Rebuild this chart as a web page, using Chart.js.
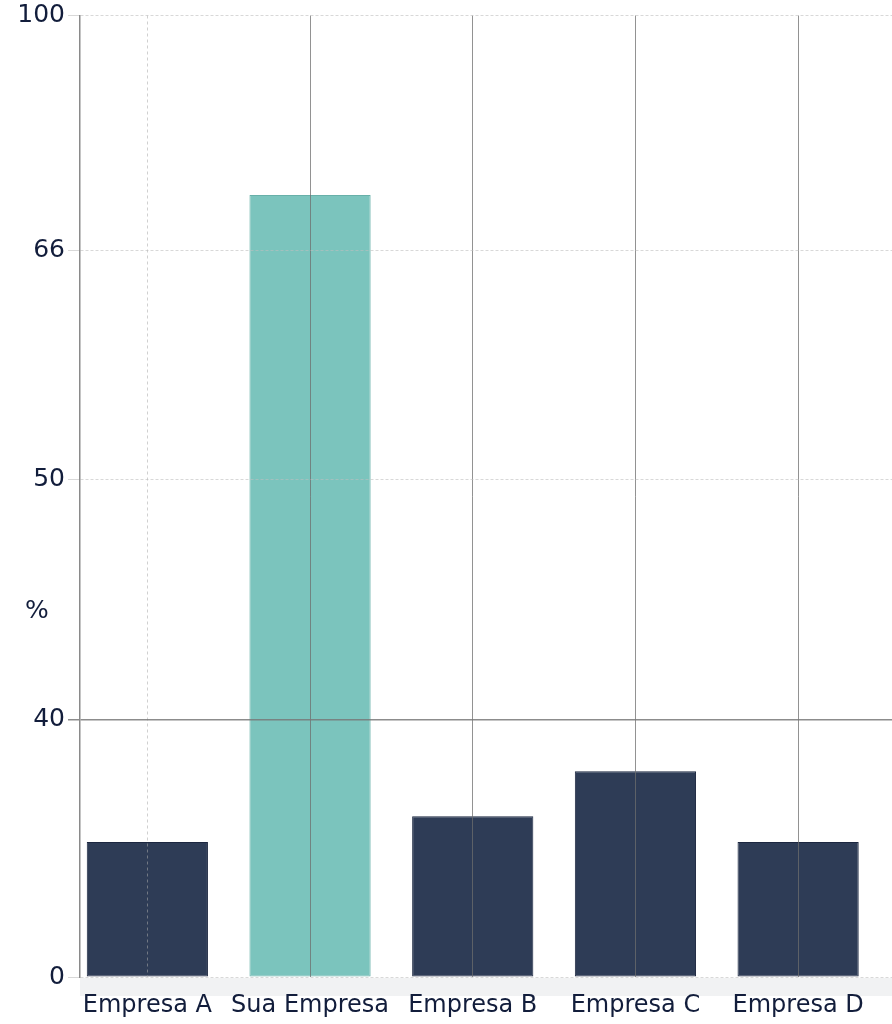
<!DOCTYPE html>
<html>
<head>
<meta charset="utf-8">
<script src="https://cdn.jsdelivr.net/npm/chart.js@4.4.1/dist/chart.umd.min.js"></script>
<style>
  html, body { margin: 0; padding: 0; background: #ffffff; }
  #wrap { width: 892px; height: 1024px; position: relative; }
</style>
</head>
<body>
<div id="wrap"><canvas id="c"></canvas></div>
<script>
// ---- data ----
const categories = ['Empresa A', 'Sua Empresa', 'Empresa B', 'Empresa C', 'Empresa D'];
const shares = [21, 74, 25, 32, 21];
const yTickValues = [0, 40, 50, 66, 100];
const yTickLabels = ['0', '40', '50', '66', '100'];
const axisUnit = '%';

// ---- a linear scale whose ticks are spread at given fractions of the axis ----
class PiecewiseScale extends Chart.LinearScale {
  static id = 'piecewise';
  static defaults = {};
  toFraction(v) {
    const vals = this.options.breakValues, fr = this.options.breakFractions;
    if (v <= vals[0]) return fr[0];
    for (let i = 1; i < vals.length; i++) {
      if (v <= vals[i]) {
        const t = (v - vals[i - 1]) / (vals[i] - vals[i - 1]);
        return fr[i - 1] + t * (fr[i] - fr[i - 1]);
      }
    }
    return fr[fr.length - 1];
  }
  fromFraction(f) {
    const vals = this.options.breakValues, fr = this.options.breakFractions;
    for (let i = 1; i < fr.length; i++) {
      if (f <= fr[i]) {
        const t = (f - fr[i - 1]) / (fr[i] - fr[i - 1]);
        return vals[i - 1] + t * (vals[i] - vals[i - 1]);
      }
    }
    return vals[vals.length - 1];
  }
  buildTicks() {
    return this.options.breakValues.map(v => ({ value: v }));
  }
  getPixelForValue(value) {
    if (value === null || value === undefined || isNaN(value)) return NaN;
    return this.getPixelForDecimal(this.toFraction(value));
  }
  getValueForPixel(pixel) {
    return this.fromFraction(this.getDecimalForPixel(pixel));
  }
}
Chart.register(PiecewiseScale);

const TEXT = '#121d3b';
const FONT = '"DejaVu Sans"';

const extras = {
  id: 'extras',
  beforeDraw(chart) {
    const { ctx, chartArea } = chart;
    ctx.save();
    ctx.fillStyle = '#f1f2f3';
    ctx.fillRect(chartArea.left, chartArea.bottom + 1, chartArea.right - chartArea.left, 18);
    ctx.restore();
  },
  afterDraw(chart) {
    const { ctx } = chart;
    const y = chart.scales.y.getPixelForValue(44.5);
    ctx.save();
    ctx.fillStyle = TEXT;
    ctx.font = '25px ' + FONT;
    ctx.textAlign = 'center';
    ctx.textBaseline = 'middle';
    ctx.fillText(axisUnit, 37, y);
    ctx.restore();
  }
};

new Chart(document.getElementById('c'), {
  type: 'bar',
  data: {
    datasets: [{
      data: categories.map((c, i) => ({ x: i, y: shares[i] })),
      backgroundColor: categories.map((c, i) => i === 1 ? '#7bc4bd' : '#2e3c56'),
      borderColor: categories.map((c, i) => i === 1 ? '#68b0a9' : '#1c2740'),
      borderWidth: 1,
      borderSkipped: false,
      categoryPercentage: 1,
      barPercentage: 0.745
    }]
  },
  options: {
    responsive: true,
    maintainAspectRatio: false,
    animation: false,
    layout: { padding: { top: 13, right: 0, bottom: 0, left: 0 } },
    plugins: { legend: { display: false }, tooltip: { enabled: false } },
    scales: {
      x: {
        type: 'linear',
        offset: false,
        min: -0.414,
        max: 4.577,
        afterBuildTicks(scale) { scale.ticks = categories.map((c, i) => ({ value: i })); },
        afterFit(scale) { scale.height = 47; },
        grid: {
          offset: false,
          z: 1,
          drawTicks: false,
          color: (ctx) => ctx.index === 0 ? 'rgba(170,170,170,0.55)' : 'rgba(110,110,110,0.75)',
          lineWidth: 1
        },
        border: {
          display: false,
          dash: (ctx) => ctx.index === 0 ? [3, 3] : []
        },
        ticks: {
          autoSkip: false,
          maxRotation: 0,
          padding: 14,
          color: TEXT,
          font: { family: FONT, size: 24 },
          callback: (v) => categories[v]
        }
      },
      y: {
        type: 'piecewise',
        min: 0,
        max: 100,
        breakValues: yTickValues,
        breakFractions: [0, 0.2676, 0.5173, 0.7559, 1],
        afterFit(scale) { scale.width = 80; },
        grid: {
          z: 1,
          tickLength: 12,
          color: (ctx) => ctx.index === 1 ? 'rgba(120,120,120,0.85)' : 'rgba(190,190,190,0.6)',
          lineWidth: (ctx) => ctx.index === 1 ? 1.5 : 1
        },
        border: {
          display: true,
          z: 2,
          color: '#8a8a8a',
          width: 1.5,
          dash: (ctx) => (ctx.index === 1 || ctx.index === undefined) ? [] : [3, 2]
        },
        ticks: {
          padding: 3,
          color: TEXT,
          font: { family: FONT, size: 25, lineHeight: 1 },
          callback: (v) => yTickLabels[yTickValues.indexOf(v)]
        }
      }
    }
  },
  plugins: [extras]
});
</script>
</body>
</html>
